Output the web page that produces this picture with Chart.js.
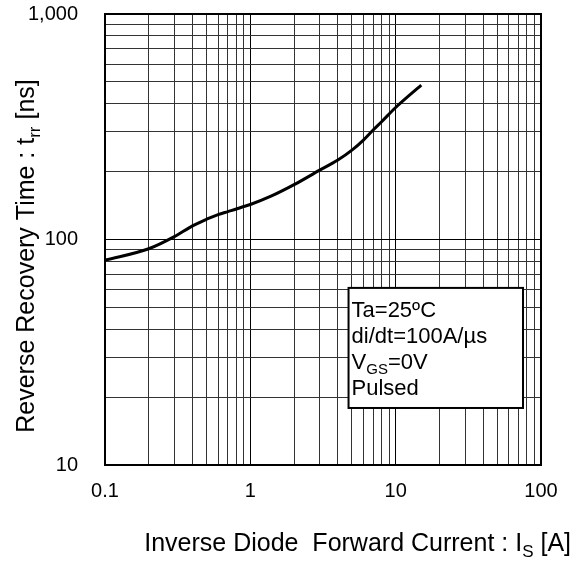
<!DOCTYPE html>
<html>
<head>
<meta charset="utf-8">
<script src="https://cdn.jsdelivr.net/npm/chart.js@4"></script>
<style>
  html, body { margin: 0; padding: 0; background: #fff; }
  #wrap { width: 580px; height: 563px; }
</style>
</head>
<body>
<div id="wrap"><canvas id="trrChart" width="580" height="563"></canvas></div>
<script>
/* trr vs Is curve */
const currentA = [0.1, 0.2, 0.3, 0.4, 0.5, 0.6, 0.7, 0.8, 0.9, 1, 1.4, 2, 3, 4, 5, 6, 7, 8, 10, 15];
const trrNs = [81, 91, 103, 115, 123, 129, 133, 136.5, 140, 143, 156, 175, 203, 225, 249, 276, 306, 333, 385, 484];

const xGrid = [0.1,0.2,0.3,0.4,0.5,0.6,0.7,0.8,0.9,1,2,3,4,5,6,7,8,9,10,20,30,40,50,60,70,80,90,100];
const yGrid = [10,20,30,40,50,60,70,80,90,100,200,300,400,500,600,700,800,900,1000];
const xTickLabels = { 0.1: '0.1', 1: '1', 10: '10', 100: '100' };
const yTickLabels = { 10: '10', 100: '100', 1000: '1,000' };
const majors = [0.1, 1, 10, 100, 1000];

const noteLines = ['Ta=25ºC', 'di/dt=100A/µs', ['V', 'GS', '=0V'], 'Pulsed'];
const noteBox = { x1: 4.74, x2: 75.2, y1: 61, y2: 17.9 };

const FONT = '"Liberation Sans", Arial, sans-serif';

function drawSub(ctx, parts, x, y, size) {
  // parts: [normal, subscript, normal ...]
  parts.forEach((p, i) => {
    const sub = i % 2 === 1;
    ctx.font = (sub ? Math.round(size * 0.68) : size) + 'px ' + FONT;
    ctx.fillText(p, x, y + (sub ? size * 0.22 : 0));
    x += ctx.measureText(p).width;
  });
  return x;
}

function partsWidth(ctx, parts, size) {
  let w = 0;
  parts.forEach((p, i) => {
    ctx.font = (i % 2 === 1 ? Math.round(size * 0.68) : size) + 'px ' + FONT;
    w += ctx.measureText(p).width;
  });
  return w;
}

const decorPlugin = {
  id: 'decor',
  afterDatasetsDraw(chart) {
    const ctx = chart.ctx, a = chart.chartArea;
    const sx = chart.scales.x, sy = chart.scales.y;
    ctx.save();
    // frame
    ctx.strokeStyle = '#000'; ctx.lineWidth = 2;
    ctx.strokeRect(a.left, a.top, a.right - a.left, a.bottom - a.top);

    // note box
    const bx1 = sx.getPixelForValue(noteBox.x1), bx2 = sx.getPixelForValue(noteBox.x2);
    const by1 = sy.getPixelForValue(noteBox.y1), by2 = sy.getPixelForValue(noteBox.y2);
    ctx.fillStyle = '#fff';
    ctx.fillRect(bx1, by1, bx2 - bx1, by2 - by1);
    ctx.strokeRect(bx1, by1, bx2 - bx1, by2 - by1);
    ctx.fillStyle = '#000';
    ctx.textBaseline = 'alphabetic';
    ctx.textAlign = 'left';
    noteLines.forEach((ln, i) => {
      const parts = Array.isArray(ln) ? ln : [ln];
      drawSub(ctx, parts, bx1 + 3, by1 + 29 + i * 26, 22);
    });

    // x title
    const xt = ['Inverse Diode  Forward Current : I', 'S', ' [A]'];
    const xw = partsWidth(ctx, xt, 25);
    drawSub(ctx, xt, 571 - xw, 551, 25);

    // y title
    const yt = ['Reverse Recovery Time : t', 'rr', ' [ns]'];
    const yw = partsWidth(ctx, yt, 25);
    ctx.translate(34, 256);
    ctx.rotate(-Math.PI / 2);
    drawSub(ctx, yt, -yw / 2, 0, 25);
    ctx.restore();
  }
};

function gridColor(c) {
  return majors.includes(c.tick && c.tick.value) ? '#000' : '#333';
}

new Chart(document.getElementById('trrChart'), {
  type: 'line',
  data: {
    datasets: [{
      data: currentA.map((x, i) => ({ x, y: trrNs[i] })),
      borderColor: '#000', borderWidth: 3, pointRadius: 0,
      cubicInterpolationMode: 'monotone', fill: false
    }]
  },
  options: {
    responsive: false, animation: false,
    layout: { padding: { top: 14, right: 39, left: 0, bottom: 0 } },
    plugins: { legend: { display: false }, tooltip: { enabled: false } },
    scales: {
      x: {
        type: 'logarithmic', min: 0.1, max: 100,
        afterFit: s => { s.height = 98; s.paddingLeft = 0; s.paddingRight = 0; },
        afterBuildTicks: s => { s.ticks = xGrid.map(v => ({ value: v })); },
        ticks: { autoSkip: false, maxRotation: 0, padding: 14, color: '#000',
          font: { family: FONT, size: 20 }, callback: v => xTickLabels[v] || '' },
        grid: { drawTicks: false, color: gridColor, lineWidth: 1 },
        border: { display: false }
      },
      y: {
        type: 'logarithmic', min: 10, max: 1000,
        afterFit: s => { s.width = 105; s.paddingTop = 0; s.paddingBottom = 0; },
        afterBuildTicks: s => { s.ticks = yGrid.map(v => ({ value: v })); },
        ticks: { autoSkip: false, padding: 27, color: '#000',
          font: { family: FONT, size: 20 }, callback: v => yTickLabels[v] || '' },
        grid: { drawTicks: false, color: gridColor, lineWidth: 1 },
        border: { display: false }
      }
    }
  },
  plugins: [decorPlugin]
});
</script>
</body>
</html>
